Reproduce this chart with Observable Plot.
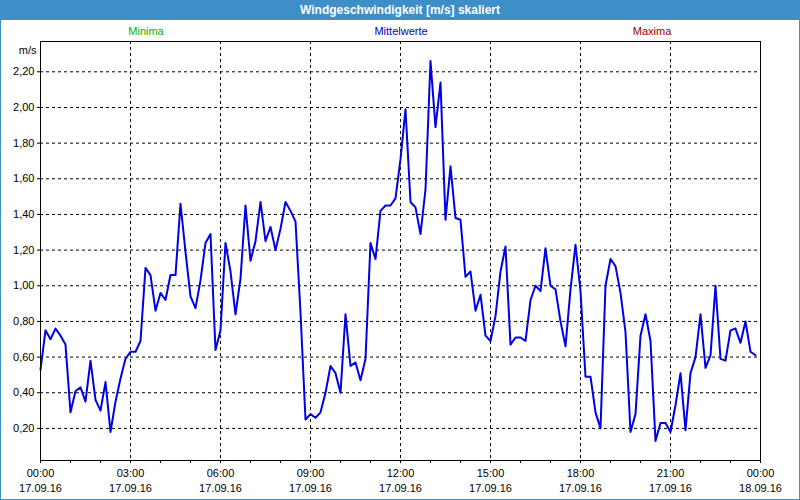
<!DOCTYPE html>
<html>
<head>
<meta charset="utf-8">
<script src="https://cdn.jsdelivr.net/npm/d3@7"></script>
<script src="https://cdn.jsdelivr.net/npm/@observablehq/plot@0.6"></script>
<style>
  html, body { margin: 0; padding: 0; background: #fff; }
  #win { position: relative; width: 800px; height: 500px; box-sizing: border-box;
         border: 1px solid #3c8fc7; border-top: none; background: #fff; overflow: hidden;
         font-family: "Liberation Sans", Arial, sans-serif; }
  #title { position: absolute; left: -1px; top: 0; width: 800px; height: 20px; background: #3c8fc7;
           color: #fff; font-weight: bold; font-size: 12px; line-height: 20px; text-align: center; }
  .leg { position: absolute; top: 24px; font-size: 11px; line-height: 14px; transform: translateX(-50%); white-space: nowrap; }
  #chart { position: absolute; left: 0; top: 40px; }
</style>
</head>
<body>
<div id="win">
  <div id="title">Windgeschwindigkeit [m/s] skaliert</div>
  <div class="leg" style="left:145px;color:#00b400">Minima</div>
  <div class="leg" style="left:400px;color:#0000d0">Mittelwerte</div>
  <div class="leg" style="left:651px;color:#a00000">Maxima</div>
  <div id="chart"></div>
</div>
<script>
// 10-minute mean wind speed values, 17.09.16 00:00 .. 23:50
const values = [
  0.53, 0.75, 0.70, 0.76, 0.72, 0.67, 0.29, 0.41, 0.43, 0.35, 0.58, 0.36,
  0.30, 0.46, 0.18, 0.35, 0.48, 0.59, 0.63, 0.63, 0.69, 1.10, 1.06, 0.86,
  0.96, 0.92, 1.06, 1.06, 1.46, 1.19, 0.94, 0.875, 1.03, 1.24, 1.29, 0.64,
  0.75, 1.24, 1.08, 0.84, 1.04, 1.45, 1.14, 1.25, 1.47, 1.25, 1.33, 1.20,
  1.32, 1.47, 1.42, 1.36, 0.85, 0.25, 0.28, 0.26, 0.29, 0.40, 0.55, 0.51,
  0.40, 0.84, 0.55, 0.57, 0.47, 0.59, 1.24, 1.15, 1.42, 1.45, 1.45, 1.49,
  1.71, 1.99, 1.47, 1.44, 1.29, 1.54, 2.26, 1.89, 2.14, 1.37, 1.67, 1.38,
  1.37, 1.05, 1.08, 0.86, 0.95, 0.72, 0.69, 0.83, 1.08, 1.22, 0.67, 0.71,
  0.71, 0.69, 0.92, 1.00, 0.97, 1.21, 1.00, 0.98, 0.80, 0.66, 0.98, 1.23,
  0.97, 0.49, 0.49, 0.29, 0.20, 1.00, 1.15, 1.11, 0.96, 0.74, 0.18, 0.28,
  0.72, 0.84, 0.69, 0.13, 0.23, 0.23, 0.18, 0.33, 0.51, 0.19, 0.51, 0.60,
  0.84, 0.54, 0.61, 1.00, 0.59, 0.58, 0.75, 0.76, 0.68, 0.80, 0.63, 0.61
];
const startTime = Date.UTC(2016, 8, 17, 0, 0);
const endTime = Date.UTC(2016, 8, 18, 0, 0);
const stepMinutes = 10;
const labelHours = [0, 3, 6, 9, 12, 15, 18, 21, 24];
const minorHours = d3.range(0, 25);
const yTicks = [0.2, 0.4, 0.6, 0.8, 1.0, 1.2, 1.4, 1.6, 1.8, 2.0, 2.2];
const yDomain = [0.02, 2.37];
const yUnit = "m/s";

const data = values.map((v, i) => ({ t: new Date(startTime + i * stepMinutes * 60000), v }));
const hourDate = h => new Date(startTime + h * 3600000);
const labelTicks = labelHours.map(hourDate);
const minorTicks = minorHours.map(hourDate);
const gridTicks = labelTicks.slice(1, -1);
const fmtTime = d3.utcFormat("%H:%M");
const fmtDate = d3.utcFormat("%d.%m.%y");
const fmtY = d => d.toFixed(2).replace(".", ",");

const chart = Plot.plot({
  width: 798,
  height: 459,
  marginTop: 1,
  marginBottom: 39,
  marginLeft: 39,
  marginRight: 39,
  style: { fontFamily: "Liberation Sans, Arial, sans-serif", fontSize: "11px", color: "black", background: "white", overflow: "visible" },
  x: { type: "utc", domain: [new Date(startTime), new Date(endTime)] },
  y: { domain: yDomain },
  marks: [
    Plot.gridY({ ticks: yTicks, stroke: "black", strokeOpacity: 1, strokeDasharray: "3,3" }),
    Plot.gridX({ ticks: gridTicks, stroke: "black", strokeOpacity: 1, strokeDasharray: "3,3" }),
    Plot.axisY({ ticks: yTicks, tickSize: 3, tickPadding: 3, tickFormat: fmtY, label: null }),
    Plot.axisX({ ticks: minorTicks, tickSize: 3, tickFormat: () => "", label: null }),
    Plot.axisX({ ticks: labelTicks, tickSize: 0, tickPadding: 9, tickFormat: fmtTime, label: null }),
    Plot.axisX({ ticks: labelTicks, tickSize: 0, tickPadding: 24, tickFormat: fmtDate, label: null }),
    Plot.text([yUnit], { frameAnchor: "top-left", dx: -4, dy: 5, textAnchor: "end", fill: "black" }),
    Plot.line(data, { x: "t", y: "v", stroke: "#0000e6", strokeWidth: 2 }),
    Plot.frame({ stroke: "black" })
  ]
});
document.getElementById("chart").appendChild(chart);
</script>
</body>
</html>
